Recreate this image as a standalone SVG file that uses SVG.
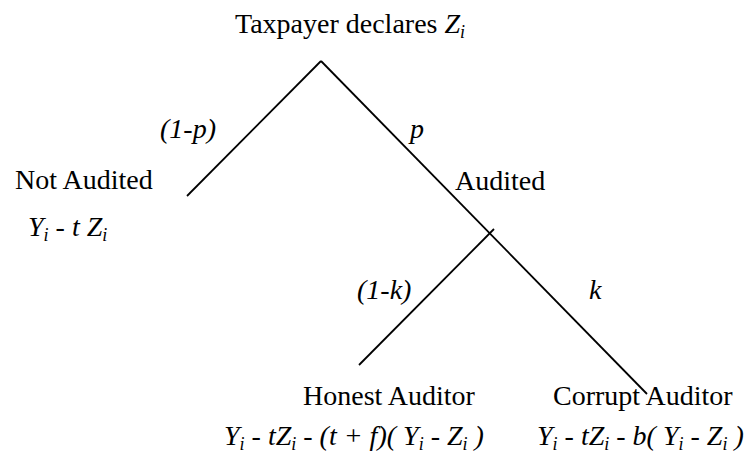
<svg xmlns="http://www.w3.org/2000/svg" width="748" height="457" viewBox="0 0 748 457">
<style>
text{font-family:"Liberation Serif","Times New Roman",serif;font-size:28px;fill:#000}
.it{font-style:italic}
.sub{font-size:18px;font-style:italic}
.edge{stroke:#000;stroke-width:1.8;fill:none}
</style>
<rect width="748" height="457" fill="#fff"/>
<g id="connectors">
<line class="edge" x1="321" y1="61" x2="187" y2="196"/>
<line class="edge" x1="321" y1="61" x2="647" y2="394"/>
<line class="edge" x1="494" y1="229" x2="359" y2="365"/>
</g>
<g id="root"><text x="235" y="33">Taxpayer declares <tspan class="it">Z</tspan><tspan class="sub" dy="5">i</tspan></text></g>
<g id="edge-labels">
<text class="it" x="160" y="138">(1-p)</text>
<text class="it" x="410" y="138">p</text>
<text class="it" x="357" y="299">(1-k)</text>
<text class="it" x="589" y="299">k</text>
</g>
<g id="not-audited">
<text x="15" y="189">Not Audited</text>
<text class="it" x="28" y="236">Y<tspan class="sub" dy="5">i</tspan><tspan dy="-5"> - t Z</tspan><tspan class="sub" dy="5">i</tspan></text>
</g>
<g id="audited"><text x="455" y="190">Audited</text></g>
<g id="honest">
<text x="303" y="405">Honest Auditor</text>
<text class="it" x="224" y="445">Y<tspan class="sub" dy="5">i</tspan><tspan dy="-5"> - tZ</tspan><tspan class="sub" dy="5">i</tspan><tspan dy="-5"> - (t + f)( Y</tspan><tspan class="sub" dy="5">i</tspan><tspan dy="-5"> - Z</tspan><tspan class="sub" dy="5">i</tspan><tspan dy="-5"> )</tspan></text>
</g>
<g id="corrupt">
<text x="553" y="405">Corrupt Auditor</text>
<text class="it" x="537" y="445">Y<tspan class="sub" dy="5">i</tspan><tspan dy="-5"> - tZ</tspan><tspan class="sub" dy="5">i</tspan><tspan dy="-5"> - b( Y</tspan><tspan class="sub" dy="5">i</tspan><tspan dy="-5"> - Z</tspan><tspan class="sub" dy="5">i</tspan><tspan dy="-5"> )</tspan></text>
</g>
</svg>
